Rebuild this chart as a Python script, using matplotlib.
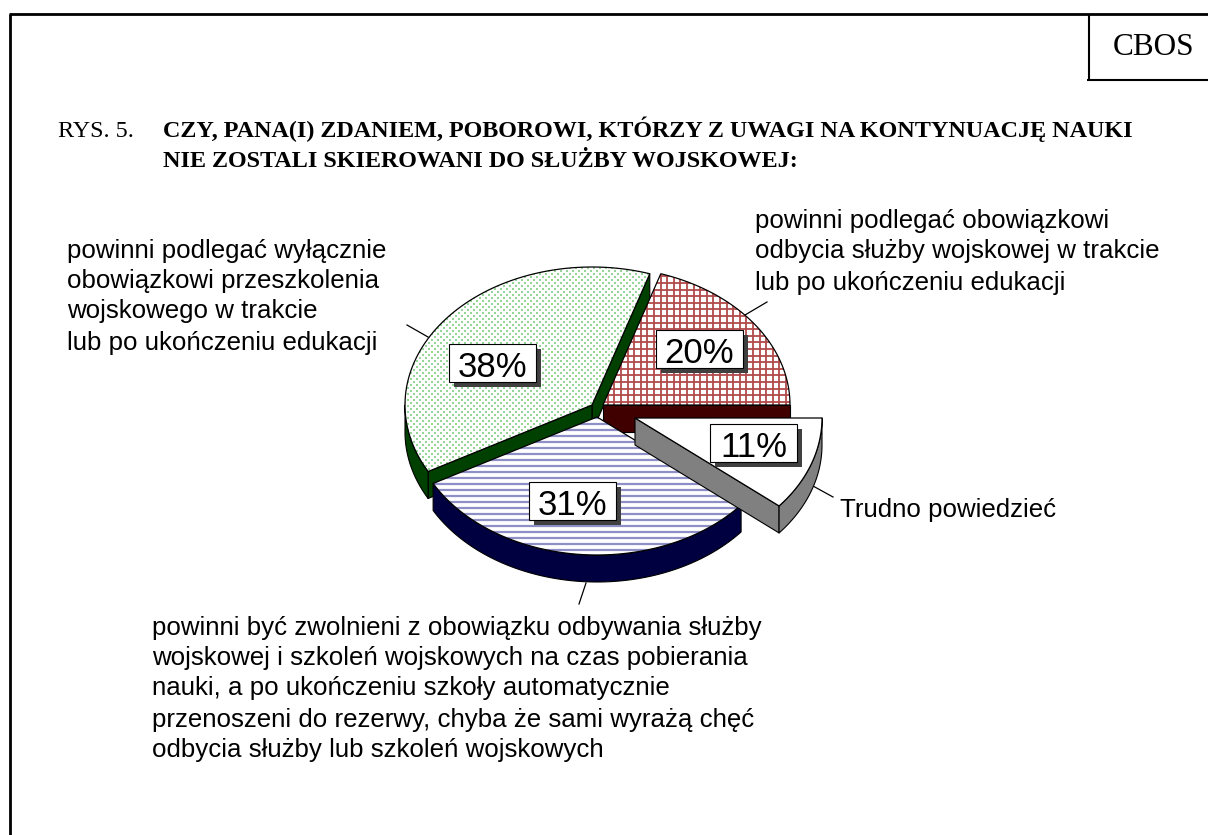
import numpy as np
import matplotlib
matplotlib.use('Agg')
import matplotlib.pyplot as plt
from matplotlib.patches import Polygon, Rectangle

# Slices go clockwise, starting at the top edge of the red one
values = [20, 11, 31, 38]
slice_labels = ['20%', '11%', '31%', '38%']
title_prefix = 'RYS. 5.'
title_lines = ['CZY, PANA(I) ZDANIEM, POBOROWI, KTÓRZY Z UWAGI NA KONTYNUACJĘ NAUKI',
               'NIE ZOSTALI SKIEROWANI DO SŁUŻBY WOJSKOWEJ:']
text_green = ['powinni podlegać wyłącznie', 'obowiązkowi przeszkolenia',
              'wojskowego w trakcie', 'lub po ukończeniu edukacji']
text_red = ['powinni podlegać obowiązkowi', 'odbycia służby wojskowej w trakcie',
            'lub po ukończeniu edukacji']
text_white = ['Trudno powiedzieć']
text_blue = ['powinni być zwolnieni z obowiązku odbywania służby',
             'wojskowej i szkoleń wojskowych na czas pobierania',
             'nauki, a po ukończeniu szkoły automatycznie',
             'przenoszeni do rezerwy, chyba że sami wyrażą chęć',
             'odbycia służby lub szkoleń wojskowych']

# Pie geometry and styles, in pixels of the output image
RX, RY, DEPTH = 187, 138, 27
START = 3.6 * values[0]
centers = [(603, 405), (635, 418), (597, 417), (592, 405)]
wall_colors = ['#400000', '#808080', '#000040', '#004000']
box_pos = [(656, 330), (710, 424), (529, 482), (449, 344)]

W, H = 1208, 835
fig = plt.figure(figsize=(W / 100, H / 100), dpi=100, facecolor='white')
ax = fig.add_axes([0, 0, 1, 1])
ax.set_xlim(0, W)
ax.set_ylim(H, 0)
ax.axis('off')


def arc(cx, cy, a0, a1):
    t = np.radians(np.linspace(a0, a1, 80))
    return np.column_stack([cx + RX * np.cos(t), cy - RY * np.sin(t)])


def wall(cx, cy, a_lo, a_hi, color, z):
    # Side of the slice: only the cuts and the part of the rim facing the viewer
    edges = []
    for a, sign in ((a_lo, 1), (a_hi, -1)):
        if sign * np.cos(np.radians(a)) > 0:
            p = arc(cx, cy, a, a)[0]
            edges.append([(cx, cy), p, p + (0, DEPTH), (cx, cy + DEPTH)])
    lo, hi = a_lo, a_hi
    if lo > 0:  # green slice, wrapped past 180 degrees
        lo, hi = 180, min(hi, 360)
    else:
        lo, hi = max(lo, -180), min(hi, 0)
    if hi > lo:
        top = arc(cx, cy, lo, hi)
        edges.append(np.vstack([top, top[::-1] + (0, DEPTH)]))
    for e in edges:
        ax.add_patch(Polygon(e, closed=True, fc=color, ec='black', lw=0.8, zorder=z, joinstyle='round'))


def texture(kind, clip, z):
    x0, x1, y0, y1 = 390, 830, 250, 570
    if kind == 0:
        ax.vlines(np.arange(x0, x1, 6.6), y0, y1, color='#b24a4a', lw=1.3, zorder=z, clip_path=clip)
        ax.hlines(np.arange(y0, y1, 6.6), x0, x1, color='#b24a4a', lw=1.3, zorder=z, clip_path=clip)
    elif kind == 2:
        ax.hlines(np.arange(y0, y1, 6.0), x0, x1, color='#8f8fc8', lw=1.6, zorder=z, clip_path=clip)
    elif kind == 3:
        xs, ys = np.meshgrid(np.arange(x0, x1, 6.0), np.arange(y0, y1, 6.0))
        ax.scatter(xs.ravel(), ys.ravel(), s=3.0, marker='s', c='#95d595', lw=0, zorder=z, clip_path=clip)
        ax.scatter(xs.ravel() + 3, ys.ravel() + 3, s=3.0, marker='s', c='#95d595', lw=0, zorder=z, clip_path=clip)


# Angles from the values
angles = START - 3.6 * np.cumsum([0] + values)
draw_order = [3, 0, 2, 1]
for n, i in enumerate(draw_order):
    a_hi, a_lo = angles[i], angles[i + 1]
    cx, cy = centers[i]
    z = 2 + n * 3
    if i == 3:
        a_hi, a_lo = a_lo + 360, a_hi + 360  # runs on from 72 up to 208.8
    wall(cx, cy, min(a_lo, a_hi), max(a_lo, a_hi), wall_colors[i], z)
    pts = np.vstack([[(cx, cy)], arc(cx, cy, a_hi, a_lo)])
    face = Polygon(pts, closed=True, fc='white', ec='none', zorder=z + 1)
    ax.add_patch(face)
    texture(i, face, z + 1)
    ax.add_patch(Polygon(pts, closed=True, fc='none', ec='black', lw=0.9, zorder=z + 2))

# Percent boxes with drop shadow
for s, (bx, by) in zip(slice_labels, box_pos):
    ax.add_patch(Rectangle((bx + 5, by + 5), 87, 38, fc='#404040', ec='none', zorder=20))
    ax.add_patch(Rectangle((bx, by), 87, 38, fc='white', ec='black', lw=0.8, zorder=21))
    ax.text(bx + 43.5, by + 33, s, ha='center', va='baseline', fontsize=25, family='Liberation Sans', zorder=22)

# Leader lines
for (x0, y0), (x1, y1) in [((407, 325), (428, 337)), ((767, 302), (745, 315)),
                           ((813, 486), (833, 497)), ((586, 583), (579, 604))]:
    ax.plot([x0, x1], [y0, y1], color='black', lw=0.9, zorder=1)


def block(lines, x, ys):
    for line, y in zip(lines, ys):
        ax.text(x, y, line, ha='left', va='baseline', fontsize=18.6, family='Liberation Sans', color='black')


block(text_green, 67, [258, 288, 318, 350])
block(text_red, 755, [228, 258, 290])
block(text_white, 840, [517])
block(text_blue, 152, [635, 665, 695, 727, 757])

# Heading
serif = 'Liberation Serif'
ax.text(58, 137, title_prefix, ha='left', va='baseline', fontsize=17.4, family=serif)
ax.text(163, 137, title_lines[0], ha='left', va='baseline', fontsize=17.4, family=serif, weight='bold')
ax.text(163, 167, title_lines[1], ha='left', va='baseline', fontsize=17.4, family=serif, weight='bold')

# Page frame and the CBOS box
ax.plot([10, 10], [H, 14], color='black', lw=2.0, solid_capstyle='butt')
ax.plot([9, W], [14, 14], color='black', lw=2.0, solid_capstyle='butt')
ax.plot([1088.5, 1088.5], [14, 79.5], color='black', lw=1.5, solid_capstyle='butt')
ax.plot([1087, W], [79.5, 79.5], color='black', lw=1.5, solid_capstyle='butt')
ax.text(1153.5, 55, 'CBOS', ha='center', va='baseline', fontsize=22.5, family=serif)

fig.savefig('out.png', dpi=100)
